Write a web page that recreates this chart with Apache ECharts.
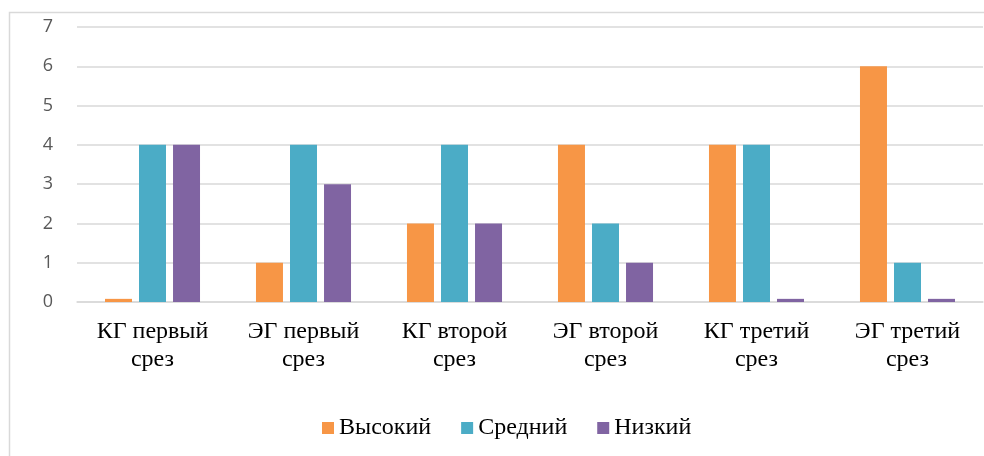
<!DOCTYPE html>
<html>
<head>
<meta charset="utf-8">
<script src="https://cdn.jsdelivr.net/npm/echarts@6/dist/echarts.min.js"></script>
<style>html,body{margin:0;padding:0;background:#fff}#c{width:984px;height:456px}</style>
</head>
<body>
<div id="c"></div>
<script>
const categories = ["КГ первый\nсрез", "ЭГ первый\nсрез", "КГ второй\nсрез", "ЭГ второй\nсрез", "КГ третий\nсрез", "ЭГ третий\nсрез"];
const seriesNames = ["Высокий", "Средний", "Низкий"];
const high = [0.08, 1, 2, 4, 4, 6];
const mid = [4, 4, 4, 2, 4, 1];
const low = [4, 3, 2, 1, 0.08, 0.08];
const yTicks = [0, 1, 2, 3, 4, 5, 6, 7];

const SERIF = "'Liberation Serif', 'Times New Roman', serif";
const colors = ["#F79646", "#4BACC6", "#8064A2"];
const chart = echarts.init(document.getElementById('c'));
const mk = (name, data, color) => ({
  name, type: 'bar', data, barWidth: 27, barGap: '26%',
  itemStyle: { color }, animation: false
});
chart.setOption({
  animation: false,
  graphic: [{
    type: 'rect', shape: { x: 9.5, y: 12.5, width: 1000, height: 500 },
    style: { fill: 'none', stroke: '#d9d9d9', lineWidth: 1.5 }, silent: true, z: -1
  }],
  grid: { left: 77, right: 1, top: 27, bottom: 154, containLabel: false },
  legend: {
    data: seriesNames, left: 317, top: 411, itemWidth: 12, itemHeight: 12, itemGap: 30,
    icon: 'rect',
    textStyle: { fontFamily: SERIF, fontSize: 24, color: '#000' }
  },
  xAxis: {
    type: 'category', data: categories,
    axisLine: { lineStyle: { color: '#d9d9d9', width: 1.5 } },
    axisTick: { show: false },
    axisLabel: { fontFamily: SERIF, fontSize: 24, color: '#000', lineHeight: 28, margin: 16, interval: 0 }
  },
  yAxis: {
    type: 'value', min: yTicks[0], max: yTicks[yTicks.length - 1], interval: 1,
    axisLine: { show: false }, axisTick: { show: false },
    splitLine: { lineStyle: { color: '#d9d9d9', width: 1.5 } },
    axisLabel: { fontFamily: 'Open Sans', fontSize: 18, color: '#595959', margin: 24 }
  },
  series: [mk(seriesNames[0], high, colors[0]), mk(seriesNames[1], mid, colors[1]), mk(seriesNames[2], low, colors[2])]
});
</script>
</body>
</html>
